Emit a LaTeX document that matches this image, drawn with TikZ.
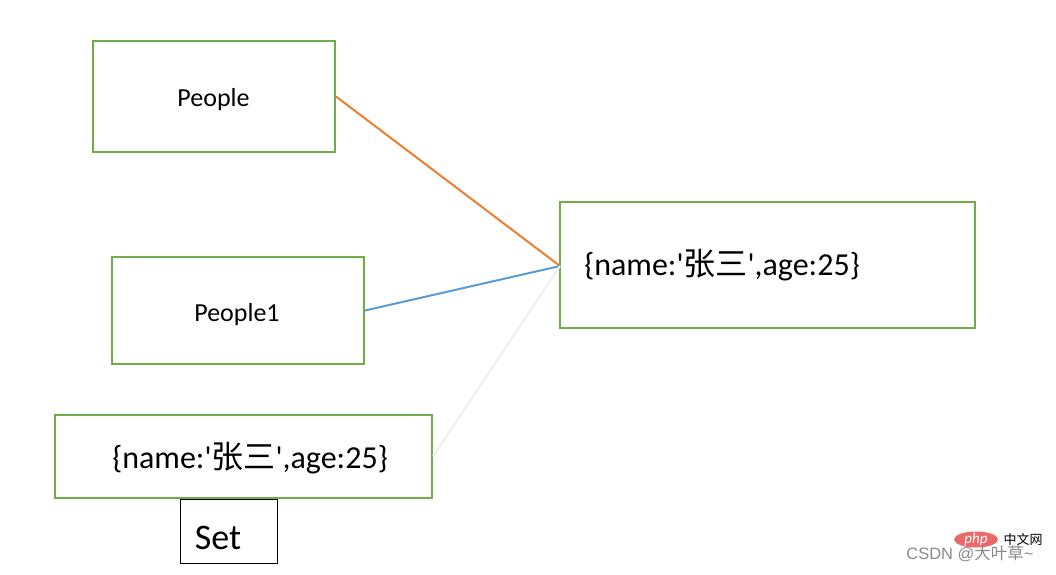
\documentclass[tikz,border=0pt]{standalone}
\usepackage{fontspec}
\usetikzlibrary{shapes.geometric}
\setmainfont{Carlito}
\newfontfamily\cjk{Noto Sans CJK SC}
\newfontfamily\wmfont{Liberation Sans}
\definecolor{boxgreen}{HTML}{70AD47}
\definecolor{lnorange}{HTML}{ED7D31}
\definecolor{lnblue}{HTML}{5B9BD5}
\definecolor{lngray}{HTML}{EFEFEF}
\definecolor{wmgray}{HTML}{8A8A8A}
\definecolor{phpred}{HTML}{E8504F}
\newcommand{\sq}{\textquotesingle}
\begin{document}
\begin{tikzpicture}[x=1pt,y=-1pt,
  gbox/.style={draw=boxgreen,line width=2pt,inner sep=0pt},
  conn/.style={line width=2pt},
  lbl/.style={anchor=base,inner sep=0pt}]
\useasboundingbox (0,0) rectangle (1056,574);
% boxes
\node[gbox,minimum width=242pt,minimum height=111pt] (people) at (214,96.5) {};
\node[gbox,minimum width=252pt,minimum height=107pt] (people1) at (238,310.5) {};
\node[gbox,minimum width=415pt,minimum height=126pt] (obj) at (767.5,265) {};
\node[gbox,minimum width=377pt,minimum height=83pt] (obj2) at (243.5,456.5) {};
\node[draw=black,line width=1pt,minimum width=97pt,minimum height=64pt,inner sep=0pt] (set) at (228.5,531) {};
% labels
\node[lbl,font=\fontsize{26}{30}\selectfont] (tpeople) at (213.5,106) {People};
\node[lbl,font=\fontsize{26}{30}\selectfont] (tpeople1) at (237,321) {People1};
\node[lbl,font=\fontsize{32}{36}\selectfont] (tobj) at (722,275) {\{name:\sq{\cjk 张三}\sq,age:25\}};
\node[lbl,font=\fontsize{32}{36}\selectfont] (tobj2) at (250,468) {\{name:\sq{\cjk 张三}\sq,age:25\}};
\node[lbl,font=\fontsize{36}{40}\selectfont] (tset) at (218,549) {Set};
% connectors
\coordinate (hubp) at (560,266);
\draw[conn,lnorange] (people.east) -- (hubp);
\draw[conn,lnblue] (people1.east) -- (hubp);
\draw[conn,lngray] (obj2.east) -- (hubp);
% watermark
\node[lbl,text=wmgray,font=\fontsize{16.5}{20}\selectfont\wmfont] (wm) at (970,559) {CSDN @{\cjk 大叶草}\textasciitilde};
\node[fill=phpred,opacity=0.85,ellipse,minimum width=44pt,minimum height=16pt,inner sep=0pt] (php) at (976,539.5) {};
\node[text=white,font=\fontsize{15}{16}\selectfont\itshape,inner sep=0pt] (phpt) at (976,539) {php};
\node[lbl,font=\fontsize{13}{14}\selectfont\cjk,text=black] (zwt) at (1023,544.5) {中文网};
\end{tikzpicture}
\end{document}
